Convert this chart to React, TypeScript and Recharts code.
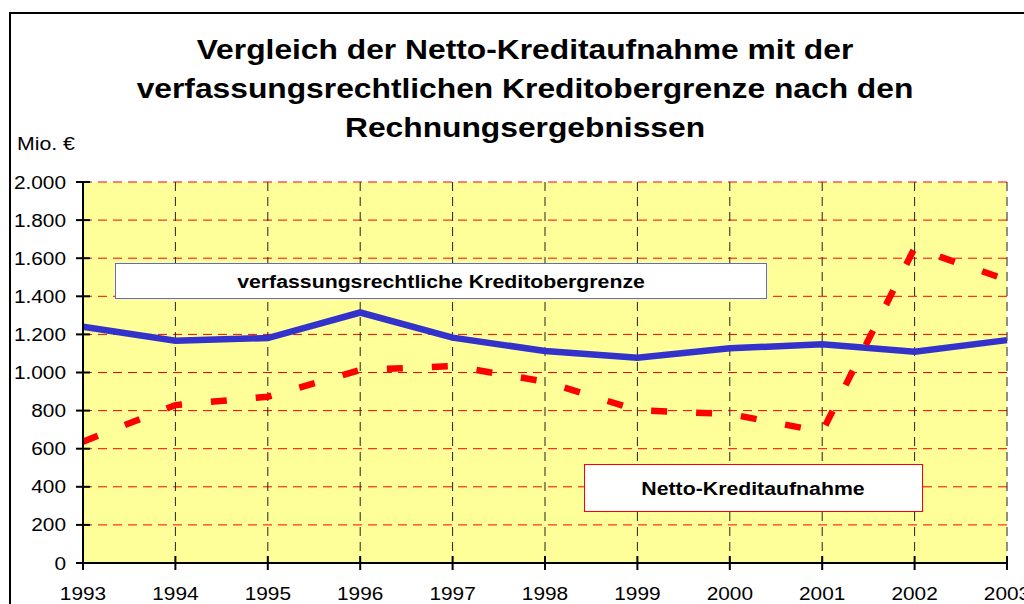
import React from 'react';
import { LineChart, Line, XAxis, YAxis, CartesianGrid } from 'recharts';

const years = ['1993', '1994', '1995', '1996', '1997', '1998', '1999', '2000', '2001', '2002', '2003'];
const kreditobergrenze = [1240, 1167, 1181, 1315, 1183, 1113, 1078, 1127, 1148, 1109, 1170];
const nettoKreditaufnahme = [637, 829, 873, 1013, 1034, 952, 802, 782, 689, 1654, 1486];
const yTicks = [0, 200, 400, 600, 800, 1000, 1200, 1400, 1600, 1800, 2000];
const titleLines = [
  'Vergleich der Netto-Kreditaufnahme mit der',
  'verfassungsrechtlichen Kreditobergrenze nach den',
  'Rechnungsergebnissen',
];

const data = years.map((y, i) => ({
  year: y,
  obergrenze: kreditobergrenze[i],
  netto: nettoKreditaufnahme[i],
}));

const FONT = 'Arial, "Liberation Sans", Helvetica, sans-serif';
const SX = 1.12;

const fmt = (v: number) => v.toLocaleString('de-DE');

const ST = (props: any) => {
  const { x, y, anchor = 'start', size, bold, sx = SX, children } = props;
  return (
    <text
      transform={`translate(${x},${y}) scale(${sx},1)`}
      x={0}
      y={0}
      textAnchor={anchor}
      fontSize={size}
      fontWeight={bold ? 'bold' : 'normal'}
      fontFamily={FONT}
      fill="#000"
    >
      {children}
    </text>
  );
};

const YTick = (props: any) => {
  const { x, y, payload } = props;
  return (
    <g>
      <line x1={x - 7} x2={x + 7} y1={y} y2={y} stroke="#000" strokeWidth={2} />
      <ST x={x - 17} y={y + 6.5} anchor="end" size={18.6}>
        {fmt(payload.value)}
      </ST>
    </g>
  );
};

const XTick = (props: any) => {
  const { x, y, payload } = props;
  return (
    <g>
      <line x1={x} x2={x} y1={y - 7} y2={y + 7} stroke="#000" strokeWidth={2} />
      <ST x={x} y={y + 37} anchor="middle" size={18.6}>
        {payload.value}
      </ST>
    </g>
  );
};

export default function App() {
  return (
    <div
      style={{
        position: 'fixed',
        left: 0,
        top: 0,
        width: 1024,
        height: 604,
        overflow: 'hidden',
        background: '#fff',
      }}
    >
      <div style={{ position: 'absolute', left: 0, top: 0 }}>
        <LineChart
          width={1024}
          height={604}
          data={data}
          margin={{ top: 182, right: 17, bottom: 1, left: 23 }}
        >
          <CartesianGrid
            horizontal={true}
            vertical={false}
            stroke="#ff0000"
            strokeDasharray="9 6"
            fill="#ffff99"
            fillOpacity={1}
          />
          <CartesianGrid
            horizontal={false}
            vertical={true}
            stroke="#222"
            strokeDasharray="9 6"
          />
          <XAxis
            dataKey="year"
            axisLine={{ stroke: '#000', strokeWidth: 2 }}
            tickLine={false}
            tickSize={0}
            tickMargin={0}
            height={40}
            interval={0}
            tick={<XTick />}
          />
          <YAxis
            domain={[0, 2000]}
            ticks={yTicks}
            axisLine={{ stroke: '#000', strokeWidth: 2 }}
            tickLine={false}
            tickSize={0}
            tickMargin={0}
            width={60}
            interval={0}
            tick={<YTick />}
          />
          <Line
            type="linear"
            dataKey="obergrenze"
            stroke="#3333cc"
            strokeWidth={6.5}
            dot={false}
            isAnimationActive={false}
          />
          <Line
            type="linear"
            dataKey="netto"
            stroke="#ff0000"
            strokeWidth={6.5}
            strokeDasharray="16 29"
            strokeLinecap="butt"
            dot={false}
            isAnimationActive={false}
          />
        </LineChart>
      </div>
      <svg
        width={1024}
        height={604}
        style={{ position: 'absolute', left: 0, top: 0, pointerEvents: 'none' }}
      >
        <rect x={10} y={13} width={1100} height={700} fill="none" stroke="#000" strokeWidth={2} />
        {titleLines.map((t, i) => (
          <ST key={i} x={525} y={59 + i * 39} anchor="middle" size={28.5} sx={1.115} bold>
            {t}
          </ST>
        ))}
        <ST x={17} y={150} size={19}>
          Mio. €
        </ST>
        <rect x={115.5} y={263.5} width={651} height={35} fill="#fff" stroke="#6666cc" strokeWidth={1} />
        <ST x={441} y={288} anchor="middle" size={19} bold>
          verfassungsrechtliche Kreditobergrenze
        </ST>
        <rect x={584.5} y={464.5} width={338} height={47} fill="#fff" stroke="#ff0000" strokeWidth={1} />
        <ST x={753} y={495} anchor="middle" size={19} bold>
          Netto-Kreditaufnahme
        </ST>
      </svg>
    </div>
  );
}
